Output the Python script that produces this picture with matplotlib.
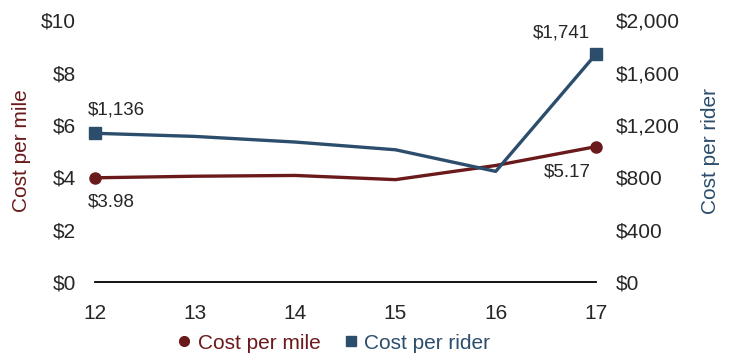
import matplotlib
matplotlib.use('Agg')
import matplotlib.pyplot as plt
from matplotlib.ticker import FuncFormatter

# data
years = [12, 13, 14, 15, 16, 17]
cost_per_mile = [3.98, 4.04, 4.07, 3.91, 4.45, 5.17]
cost_per_rider = [1136, 1112, 1069, 1010, 845, 1741]

# colours
mile_color = '#6b1a1c'
rider_color = '#2c4e6c'
text_color = '#262626'

plt.rcParams['font.family'] = ['Liberation Sans', 'DejaVu Sans']

fig = plt.figure(figsize=(7.34, 3.53), dpi=100)
ax = fig.add_axes([0.129, 0.201, 0.683, 0.742])
ax2 = ax.twinx()

# zero line
ax.plot([years[0], years[-1]], [0, 0], color='black', lw=1.3, clip_on=False)

# markers only on the first and last points
l1, = ax.plot(years, cost_per_mile, color=mile_color, lw=2.4, marker='o',
              markersize=8, markevery=[0, 5], clip_on=False, zorder=3)
l2, = ax2.plot(years, cost_per_rider, color=rider_color, lw=2.4, marker='s',
               markersize=8, markevery=[0, 5], clip_on=False, zorder=3)

ax.set_xlim(12, 17)
ax.set_ylim(0, 10)
ax2.set_ylim(0, 2000)
ax.set_yticks([0, 2, 4, 6, 8, 10])
ax2.set_yticks([0, 400, 800, 1200, 1600, 2000])
ax.set_xticks(years)
ax.yaxis.set_major_formatter(FuncFormatter(lambda v, p: f'${v:,.0f}'))
ax2.yaxis.set_major_formatter(FuncFormatter(lambda v, p: f'${v:,.0f}'))

for a in (ax, ax2):
    for s in a.spines.values():
        s.set_visible(False)
    a.tick_params(length=0, colors=text_color, labelsize=15)
ax.tick_params(axis='y', pad=13.5)
ax2.tick_params(axis='y', pad=14)
ax.tick_params(axis='x', pad=15.5)

ax.set_ylabel('Cost per mile', color=mile_color, fontsize=15)
ax2.set_ylabel('Cost per rider', color=rider_color, fontsize=15)
ax.yaxis.set_label_coords(-0.128, 0.5)
ax2.yaxis.set_label_coords(1.21, 0.5)

# value labels at the ends
ax.annotate(f'${cost_per_mile[0]:.2f}', (years[0], cost_per_mile[0]),
            xytext=(-5, -17.5), textcoords='offset points', ha='left', va='center',
            color=text_color, fontsize=13.5)
ax.annotate(f'${cost_per_mile[-1]:.2f}', (years[-1], cost_per_mile[-1]),
            xytext=(-4, -18), textcoords='offset points', ha='right', va='center',
            color=text_color, fontsize=13.5)
ax2.annotate(f'${cost_per_rider[0]:,}', (years[0], cost_per_rider[0]),
             xytext=(-5, 17), textcoords='offset points', ha='left', va='center',
             color=text_color, fontsize=13.5)
ax2.annotate(f'${cost_per_rider[-1]:,}', (years[-1], cost_per_rider[-1]),
             xytext=(-4, 15.5), textcoords='offset points', ha='right', va='center',
             color=text_color, fontsize=13.5)

leg = fig.legend([l1, l2], ['Cost per mile', 'Cost per rider'], loc='center',
                 bbox_to_anchor=(0.456, 0.028), ncol=2, frameon=False,
                 handlelength=0.5, handletextpad=0.4, columnspacing=1.2,
                 fontsize=15)
for h in leg.legend_handles:
    h.set_linestyle('none')
    h.set_markersize(7)
for t, c in zip(leg.get_texts(), [mile_color, rider_color]):
    t.set_color(c)

fig.savefig('out.png', dpi=100)
